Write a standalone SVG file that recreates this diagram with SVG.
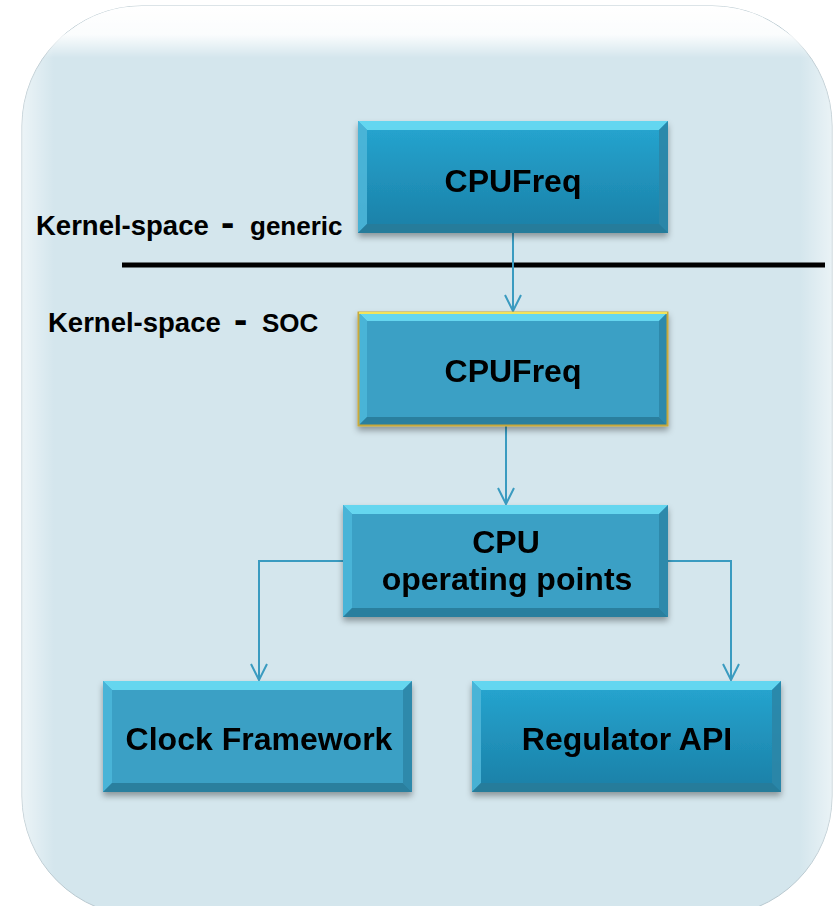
<svg xmlns="http://www.w3.org/2000/svg" width="835" height="906" viewBox="0 0 835 906">
<defs>
<linearGradient id="panelGloss" x1="0" y1="0" x2="0" y2="1">
<stop offset="0" stop-color="#ffffff" stop-opacity="1"/>
<stop offset="0.55" stop-color="#ffffff" stop-opacity="0.9"/>
<stop offset="1" stop-color="#ffffff" stop-opacity="0"/>
</linearGradient>
<linearGradient id="panelSide" x1="0" y1="0" x2="1" y2="0">
<stop offset="0" stop-color="#ffffff" stop-opacity="0.55"/>
<stop offset="0.04" stop-color="#ffffff" stop-opacity="0"/>
<stop offset="0.96" stop-color="#ffffff" stop-opacity="0"/>
<stop offset="1" stop-color="#ffffff" stop-opacity="0.5"/>
</linearGradient>
<linearGradient id="darkFill" x1="0" y1="0" x2="0" y2="1">
<stop offset="0" stop-color="#26a6d1"/>
<stop offset="1" stop-color="#1b7fa6"/>
</linearGradient>
<filter id="shadow" x="-10%" y="-10%" width="120%" height="130%">
<feDropShadow dx="0" dy="4" stdDeviation="3" flood-color="#000000" flood-opacity="0.35"/>
</filter>
<marker id="arrow" viewBox="0 0 20 20" refX="18" refY="10" markerWidth="20" markerHeight="20" markerUnits="userSpaceOnUse" orient="auto">
<path d="M2,2 L18,10 L2,18" fill="none" stroke="#3a9bc0" stroke-width="2"/>
</marker>
</defs>
<style>
.box{fill:#3aa0c5}
.dark{fill:url(#darkFill)}
.bt{fill:#6adcf3;opacity:0.9}
.bl{fill:#4cb6d8;opacity:0.9}
.br{fill:#2c86a7;opacity:0.9}
.bb{fill:#2a7b99;opacity:0.9}
.lbl{font-family:"Liberation Sans",Arial,sans-serif;font-weight:bold;fill:#000}
.big{font-size:32px;text-anchor:middle}
.conn{fill:none;stroke:#3a9bc0;stroke-width:2}
</style>
<rect x="0" y="0" width="835" height="906" fill="#ffffff"/>
<g id="panel">
<rect x="22" y="6" width="810" height="910" rx="120" ry="120" fill="#d4e6ed" stroke="#b9c9d0" stroke-width="1"/>
<rect x="22" y="6" width="810" height="910" rx="120" ry="120" fill="url(#panelSide)"/>
<path d="M142,6 H712 A120,120 0 0 1 785,31 Q805,45 815,58 H39 Q49,45 69,31 A120,120 0 0 1 142,6 Z" fill="url(#panelGloss)"/>
</g>
<g id="separator">
<line x1="122" y1="265" x2="825" y2="265" stroke="#000" stroke-width="5"/>
</g>
<g id="label-generic">
<text class="lbl" x="36" y="235" font-size="27.5">Kernel-space</text>
<text class="lbl" x="221" y="236" font-size="40">-</text>
<text class="lbl" x="250" y="235" font-size="26">generic</text>
</g>
<g id="label-soc">
<text class="lbl" x="48" y="332" font-size="27.5">Kernel-space</text>
<text class="lbl" x="234" y="333" font-size="40">-</text>
<text class="lbl" x="262" y="332" font-size="26">SOC</text>
</g>
<g id="connectors">
<path class="conn" d="M513,233 V311" marker-end="url(#arrow)"/>
<path class="conn" d="M506,426 V504" marker-end="url(#arrow)"/>
<path class="conn" d="M343,561 H259 V680" marker-end="url(#arrow)"/>
<path class="conn" d="M668,561 H731 V680" marker-end="url(#arrow)"/>
</g>
<g id="cpufreq-generic" filter="url(#shadow)">
<rect class="dark" x="358" y="121" width="310" height="112"/>
<polygon class="bt" points="358,121 668,121 659,130 367,130"/>
<polygon class="bl" points="358,121 367,130 367,224 358,233"/>
<polygon class="br" points="668,121 668,233 659,224 659,130"/>
<polygon class="bb" points="358,233 668,233 659,224 367,224"/>
<text class="lbl big" x="513" y="192">CPUFreq</text>
</g>
<g id="cpufreq-soc" filter="url(#shadow)">
<rect class="box" x="358" y="312" width="310" height="114"/>
<polygon class="bt" points="358,312 668,312 659,321 367,321"/>
<polygon class="bl" points="358,312 367,321 367,417 358,426"/>
<polygon class="br" points="668,312 668,426 659,417 659,321"/>
<polygon class="bb" points="358,426 668,426 659,417 367,417"/>
<rect x="358.5" y="312.5" width="309" height="113" fill="none" stroke="#c9a93a" stroke-width="2"/>
<line x1="359" y1="313" x2="667" y2="313" stroke="#f2e45a" stroke-width="2"/>
<text class="lbl big" x="513" y="382">CPUFreq</text>
</g>
<g id="cpu-opp" filter="url(#shadow)">
<rect class="box" x="343" y="505" width="325" height="112"/>
<polygon class="bt" points="343,505 668,505 659,514 352,514"/>
<polygon class="bl" points="343,505 352,514 352,608 343,617"/>
<polygon class="br" points="668,505 668,617 659,608 659,514"/>
<polygon class="bb" points="343,617 668,617 659,608 352,608"/>
<text class="lbl big" x="506" y="553">CPU</text>
<text class="lbl big" x="507" y="590">operating points</text>
</g>
<g id="clock-framework" filter="url(#shadow)">
<rect class="box" x="103" y="681" width="309" height="111"/>
<polygon class="bt" points="103,681 412,681 403,690 112,690"/>
<polygon class="bl" points="103,681 112,690 112,783 103,792"/>
<polygon class="br" points="412,681 412,792 403,783 403,690"/>
<polygon class="bb" points="103,792 412,792 403,783 112,783"/>
<text class="lbl big" x="259" y="750">Clock Framework</text>
</g>
<g id="regulator-api" filter="url(#shadow)">
<rect class="dark" x="472" y="681" width="309" height="111"/>
<polygon class="bt" points="472,681 781,681 772,690 481,690"/>
<polygon class="bl" points="472,681 481,690 481,783 472,792"/>
<polygon class="br" points="781,681 781,792 772,783 772,690"/>
<polygon class="bb" points="472,792 781,792 772,783 481,783"/>
<text class="lbl big" x="627" y="750">Regulator API</text>
</g>
</svg>
